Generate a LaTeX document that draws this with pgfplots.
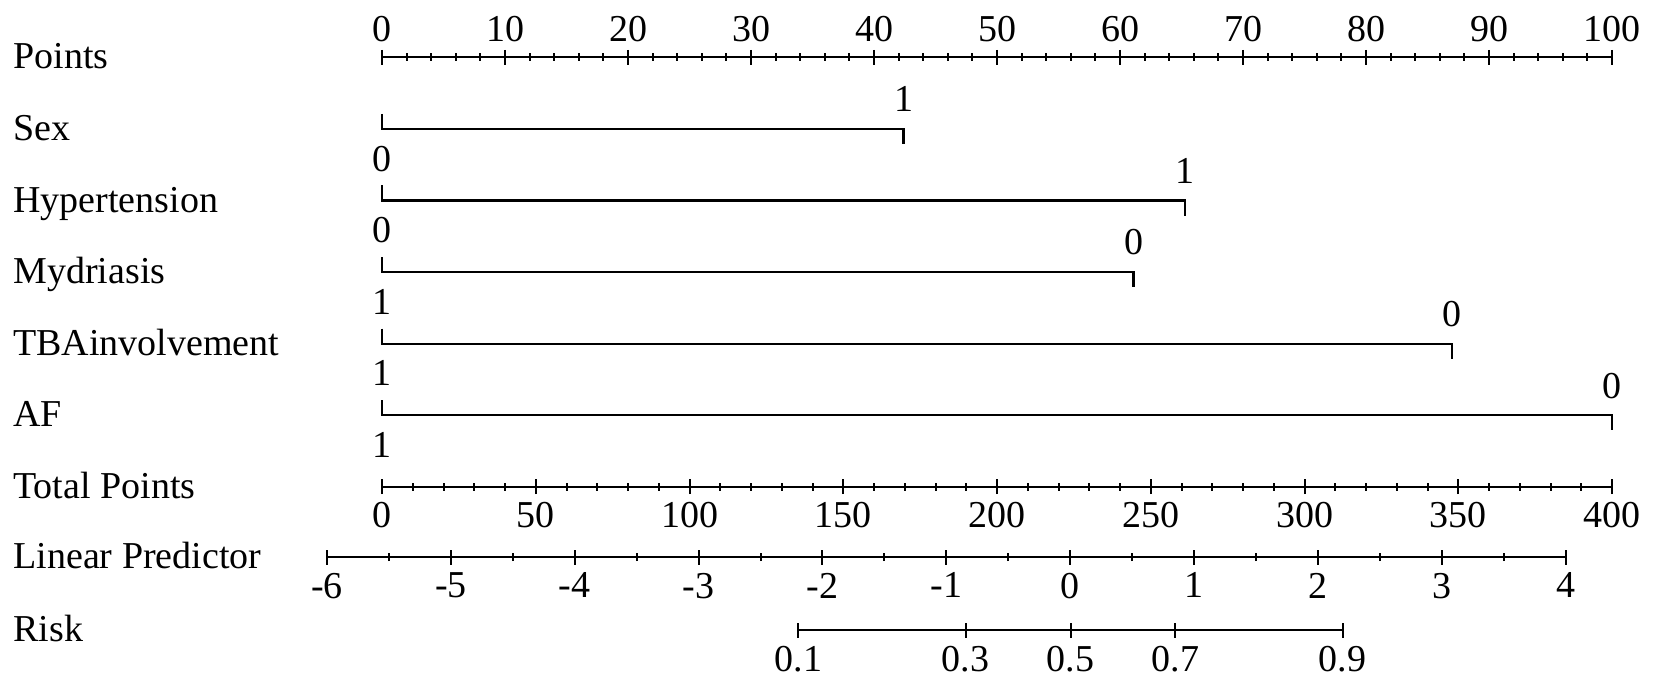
\documentclass[border=0pt]{standalone}
\usepackage{fontspec}
\setmainfont{Liberation Serif}
\usepackage{pgfplots}
\pgfplotsset{compat=1.18}
\newcommand{\fs}{\fontsize{19}{21}\selectfont}
\pgfplotsset{
  every outer x axis line/.append style={-},
  every inner x axis line/.append style={-},
  nomo/.style={
    scale only axis, clip=false,
    axis y line=none,
    tick style={line width=1pt, black},
    major tick length=7.5pt, minor tick length=4pt,
    tick align=inside,
    xticklabel style={font=\fs, inner sep=0pt},
    ymin=0, ymax=1, height=1pt,
  },
  fin/.style={x axis line style={-, line width=1.1pt}},
  up/.style={nodes near coords, point meta=explicit symbolic, draw=none, mark=none,
    every node near coord/.style={anchor=south, inner sep=0pt, yshift=8.25pt, font=\fs}},
  dn/.style={nodes near coords, point meta=explicit symbolic, draw=none, mark=none,
    every node near coord/.style={anchor=north, inner sep=0pt, yshift=-8.25pt, font=\fs}},
}
\begin{document}
\begin{tikzpicture}
\path[use as bounding box] (0,0) rectangle (827pt,-343pt);
% Points
\begin{axis}[nomo, at={(191pt,-28.65pt)}, anchor=north west, width=615pt,
  xmin=0, xmax=100, axis x line=top,
  xtick={0,10,20,30,40,50,60,70,80,90,100},
  xticklabels={0,10,20,30,40,50,60,70,80,90,100},
  minor x tick num=4, xticklabel style={yshift=4pt}, fin]
\end{axis}
% variable rows
\begin{axis}[scale only axis, clip=false, hide axis, at={(191pt,-28.65pt)}, anchor=north west,
  width=615pt, height=286.4pt, xmin=0, xmax=100, ymin=-8, ymax=0]
\addplot[black, line width=1.1pt] coordinates {(0,-0.79) (0,-1) (42.4,-1) (42.4,-1.21)};
\addplot[up] coordinates {(42.4,-1) [1]};
\addplot[dn] coordinates {(0,-1) [0]};
\addplot[black, line width=1.1pt] coordinates {(0,-1.79) (0,-2) (65.3,-2) (65.3,-2.21)};
\addplot[up] coordinates {(65.3,-2) [1]};
\addplot[dn] coordinates {(0,-2) [0]};
\addplot[black, line width=1.1pt] coordinates {(0,-2.79) (0,-3) (61.1,-3) (61.1,-3.21)};
\addplot[up] coordinates {(61.1,-3) [0]};
\addplot[dn] coordinates {(0,-3) [1]};
\addplot[black, line width=1.1pt] coordinates {(0,-3.79) (0,-4) (87.0,-4) (87.0,-4.21)};
\addplot[up] coordinates {(87.0,-4) [0]};
\addplot[dn] coordinates {(0,-4) [1]};
\addplot[black, line width=1.1pt] coordinates {(0,-4.79) (0,-5) (100,-5) (100,-5.21)};
\addplot[up] coordinates {(100,-5) [0]};
\addplot[dn] coordinates {(0,-5) [1]};
\end{axis}
% Total points
\begin{axis}[nomo, at={(191pt,-243.35pt)}, anchor=south west, width=615pt,
  xmin=0, xmax=400, axis x line=bottom,
  xtick={0,50,100,150,200,250,300,350,400},
  xticklabels={0,50,100,150,200,250,300,350,400},
  minor x tick num=4, xticklabel style={yshift=-4pt}, fin]
\end{axis}
% Linear predictor
\begin{axis}[nomo, at={(163.5pt,-278.5pt)}, anchor=south west, width=619.35pt,
  xmin=-6, xmax=4, axis x line=bottom,
  xtick={-6,-5,-4,-3,-2,-1,0,1,2,3,4},
  xticklabels={-6,-5,-4,-3,-2,-1,0,1,2,3,4},
  minor x tick num=1, xticklabel style={yshift=-4pt}, fin]
\end{axis}
% Risk
\begin{axis}[nomo, at={(399.15pt,-315pt)}, anchor=south west, width=272.2pt,
  xmin=-2.1972, xmax=2.1972, axis x line=bottom,
  xtick={-2.1972,-0.8473,0,0.8473,2.1972},
  xticklabels={0.1,0.3,0.5,0.7,0.9},
  xticklabel style={yshift=-4pt}, fin]
\end{axis}
% row names
\foreach \t/\y in {Points/34.4, Sex/70.2, Hypertension/106.0, Mydriasis/141.8,
  TBAinvolvement/177.6, AF/213.4, Total Points/249.1, Linear Predictor/284.25, Risk/320.75}
  \node[anchor=base west, inner sep=0pt, font=\fs] at (6.5pt,-\y pt) {\t};
\end{tikzpicture}
\end{document}
